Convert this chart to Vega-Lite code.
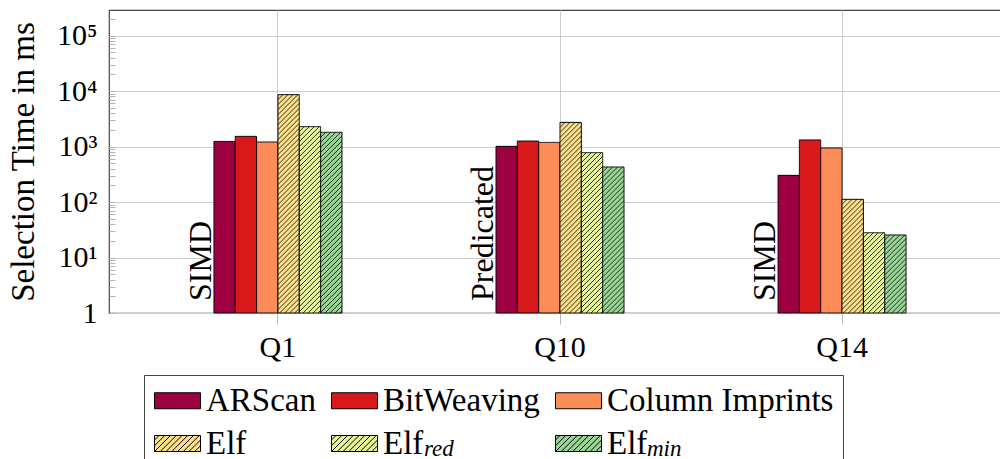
{
  "$schema": "https://vega.github.io/schema/vega-lite/v6.json",
  "width": 902,
  "height": 303,
  "autosize": "none",
  "padding": {"left": 109, "top": 10, "right": 0, "bottom": 160},
  "config": {
    "font": "Liberation Serif",
    "view": {"stroke": "#444444", "strokeWidth": 1.2}
  },
  "data": {
    "values": [
      {"query": "Q1", "series": "ARScan", "ms": 1240},
      {"query": "Q1", "series": "BitWeaving", "ms": 1530},
      {"query": "Q1", "series": "Column Imprints", "ms": 1210},
      {"query": "Q1", "series": "Elf", "ms": 8630},
      {"query": "Q1", "series": "Elf_red", "ms": 2290},
      {"query": "Q1", "series": "Elf_min", "ms": 1810},
      {"query": "Q10", "series": "ARScan", "ms": 1010},
      {"query": "Q10", "series": "BitWeaving", "ms": 1260},
      {"query": "Q10", "series": "Column Imprints", "ms": 1190},
      {"query": "Q10", "series": "Elf", "ms": 2730},
      {"query": "Q10", "series": "Elf_red", "ms": 777},
      {"query": "Q10", "series": "Elf_min", "ms": 429},
      {"query": "Q14", "series": "ARScan", "ms": 303},
      {"query": "Q14", "series": "BitWeaving", "ms": 1320},
      {"query": "Q14", "series": "Column Imprints", "ms": 944},
      {"query": "Q14", "series": "Elf", "ms": 112},
      {"query": "Q14", "series": "Elf_red", "ms": 28},
      {"query": "Q14", "series": "Elf_min", "ms": 25.5}
    ]
  },
  "layer": [
    {
      "mark": {"type": "bar", "stroke": "black", "strokeWidth": 1},
      "encoding": {
        "x": {
          "field": "query",
          "type": "nominal",
          "sort": ["Q1", "Q10", "Q14"],
          "scale": {"paddingInner": 0.546, "paddingOuter": 0.372},
          "axis": {
            "title": null,
            "labelAngle": 0,
            "labelFontSize": 30,
            "labelColor": "black",
            "labelPadding": 8,
            "tickSize": 11,
            "tickColor": "#b4b4b4",
            "grid": true,
            "gridColor": "#cccccc",
            "domain": false,
            "bandPosition": 0.5
          }
        },
        "xOffset": {
          "field": "series",
          "type": "nominal",
          "scale": {
            "domain": ["ARScan", "BitWeaving", "Column Imprints", "Elf", "Elf_red", "Elf_min"],
            "paddingInner": 0,
            "paddingOuter": 0
          }
        },
        "y": {
          "field": "ms",
          "type": "quantitative",
          "scale": {"type": "log", "domain": [1, 290000], "nice": false},
          "axis": {
            "title": "Selection Time in ms",
            "titleFontSize": 33,
            "titleFontWeight": "normal",
            "titleColor": "black",
            "titlePadding": 16,
            "values": [1, 2, 3, 4, 5, 6, 7, 8, 9, 10, 20, 30, 40, 50, 60, 70, 80, 90, 100, 200, 300, 400, 500, 600, 700, 800, 900, 1000, 2000, 3000, 4000, 5000, 6000, 7000, 8000, 9000, 10000, 20000, 30000, 40000, 50000, 60000, 70000, 80000, 90000, 100000, 200000],
            "labelExpr": "datum.value == 1 ? '1' : datum.value == 10 ? '10¹' : datum.value == 100 ? '10²' : datum.value == 1000 ? '10³' : datum.value == 10000 ? '10⁴' : datum.value == 100000 ? '10⁵' : ''",
            "labelFontSize": 30,
            "labelColor": "black",
            "labelPadding": 18,
            "labelOverlap": false,
            "labelFlush": false,
            "tickSize": -6,
            "tickColor": "#b4b4b4",
            "grid": true,
            "gridColor": "#cccccc",
            "gridOpacity": {
              "condition": {"test": "indexof([1, 10, 100, 1000, 10000, 100000], datum.value) >= 0", "value": 1},
              "value": 0
            },
            "domain": false
          }
        },
        "y2": {"datum": 1},
        "fill": {
          "field": "series",
          "type": "nominal",
          "scale": {
            "domain": ["ARScan", "BitWeaving", "Column Imprints", "Elf", "Elf_red", "Elf_min"],
            "range": ["#9e0142", "#d7191c", "#fc8d59", "#fee08b", "#e6f598", "#99d594"]
          },
          "legend": {
            "orient": "none",
            "legendX": 35,
            "legendY": 365,
            "title": null,
            "columns": 3,
            "direction": "horizontal",
            "symbolType": "M-1.5333,-0.5333H1.5333V0.5333H-1.5333Z",
            "symbolSize": 900,
            "symbolOffset": 8,
            "symbolStrokeColor": "black",
            "symbolStrokeWidth": 1,
            "symbolOpacity": 1,
            "labelFontSize": 33,
            "labelColor": "black",
            "labelOffset": 12,
            "labelLimit": 400,
            "labelExpr": "datum.value == 'Elf_red' || datum.value == 'Elf_min' ? 'Elf' : datum.value",
            "columnPadding": 13,
            "rowPadding": 9,
            "padding": 9,
            "strokeColor": "#444444",
            "fillColor": "white",
            "encode": {
              "symbols": {
                "update": {
                  "shape": {
                    "signal": "indexof(['Elf', 'Elf_red', 'Elf_min'], datum.value) >= 0 ? 'M-1.5333,-0.5333H1.5333V0.5333H-1.5333Z M-1.5333,-0.2333L-1.2333,-0.5333 M-1.5333,0.15L-0.85,-0.5333 M-1.5333,0.5333L-0.4667,-0.5333 M-1.15,0.5333L-0.0833,-0.5333 M-0.7667,0.5333L0.3,-0.5333 M-0.3833,0.5333L0.6833,-0.5333 M0,0.5333L1.0667,-0.5333 M0.3833,0.5333L1.45,-0.5333 M0.7667,0.5333L1.5333,-0.2333 M1.15,0.5333L1.5333,0.15' : 'M-1.5333,-0.5333H1.5333V0.5333H-1.5333Z'"
                  }
                }
              }
            }
          }
        },
        "strokeDash": {
          "field": "series",
          "type": "nominal",
          "sort": null,
          "scale": {"range": [[1, 0]]},
          "legend": {
            "orient": "none",
            "legendX": 254,
            "legendY": 414,
            "title": null,
            "values": ["Elf_red", "Elf_min"],
            "columns": 2,
            "direction": "horizontal",
            "symbolType": "M-1.5333,-0.5333H1.5333V0.5333H-1.5333Z",
            "symbolSize": 900,
            "symbolOffset": 8,
            "symbolOpacity": 0,
            "labelFontSize": 23,
            "labelFontStyle": "italic",
            "labelColor": "black",
            "labelOffset": 12,
            "labelLimit": 400,
            "labelExpr": "datum.value == 'Elf_red' ? 'red' : 'min'",
            "columnPadding": 141,
            "padding": 9
          }
        }
      }
    },
    {
      "transform": [{"filter": {"field": "series", "oneOf": ["Elf", "Elf_red", "Elf_min"]}}],
      "mark": {
        "type": "point",
        "shape": "M-10.67,5l5,-5M-10.67,10l10,-10M-10.67,15l15,-15M-10.67,20l20,-20M-10.67,25l21.34,-21.34M-10.67,30l21.34,-21.34M-10.67,35l21.34,-21.34M-10.67,40l21.34,-21.34M-10.67,45l21.34,-21.34M-10.67,50l21.34,-21.34M-10.67,55l21.34,-21.34M-10.67,60l21.34,-21.34M-10.67,65l21.34,-21.34M-10.67,70l21.34,-21.34M-10.67,75l21.34,-21.34M-10.67,80l21.34,-21.34M-10.67,85l21.34,-21.34M-10.67,90l21.34,-21.34M-10.67,95l21.34,-21.34M-10.67,100l21.34,-21.34M-10.67,105l21.34,-21.34M-10.67,110l21.34,-21.34M-10.67,115l21.34,-21.34M-10.67,120l21.34,-21.34M-10.67,125l21.34,-21.34M-10.67,130l21.34,-21.34M-10.67,135l21.34,-21.34M-10.67,140l21.34,-21.34M-10.67,145l21.34,-21.34M-10.67,150l21.34,-21.34M-10.67,155l21.34,-21.34M-10.67,160l21.34,-21.34M-10.67,165l21.34,-21.34M-10.67,170l21.34,-21.34M-10.67,175l21.34,-21.34M-10.67,180l21.34,-21.34M-10.67,185l21.34,-21.34M-10.67,190l21.34,-21.34M-10.67,195l21.34,-21.34M-10.67,200l21.34,-21.34M-10.67,205l21.34,-21.34M-10.67,210l21.34,-21.34M-10.67,215l21.34,-21.34M-10.67,220l21.34,-21.34M-10.67,225l21.34,-21.34M-10.67,230l21.34,-21.34M-10.67,235l21.34,-21.34M-10.67,240l21.34,-21.34M-10.67,245l21.34,-21.34M-10.67,250l21.34,-21.34",
        "size": 4,
        "filled": false,
        "stroke": "black",
        "strokeWidth": 0.8,
        "opacity": 1,
        "clip": true
      },
      "encoding": {
        "x": {"field": "query", "type": "nominal", "sort": ["Q1", "Q10", "Q14"]},
        "xOffset": {"field": "series", "type": "nominal"},
        "y": {"field": "ms", "type": "quantitative"}
      }
    },
    {
      "data": {
        "values": [
          {"query": "Q1", "mode": "SIMD"},
          {"query": "Q10", "mode": "Predicated"},
          {"query": "Q14", "mode": "SIMD"}
        ]
      },
      "mark": {
        "type": "text",
        "angle": 270,
        "align": "left",
        "baseline": "alphabetic",
        "dx": 12,
        "dy": -67,
        "fontSize": 32,
        "color": "black"
      },
      "encoding": {
        "x": {"field": "query", "type": "nominal", "sort": ["Q1", "Q10", "Q14"]},
        "y": {"datum": 1, "type": "quantitative"},
        "text": {"field": "mode"}
      }
    }
  ]
}
